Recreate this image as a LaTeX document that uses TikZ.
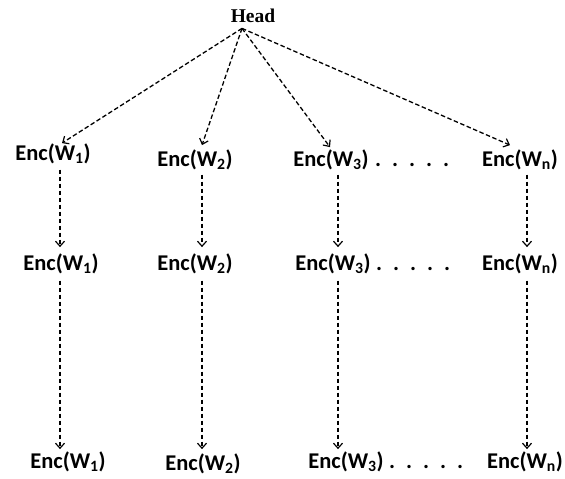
\documentclass[tikz,border=0pt]{standalone}
\usepackage{fontspec}
\setmainfont{Carlito}
\newfontfamily\headfont{Liberation Serif}
\usetikzlibrary{arrows.meta}
\begin{document}
\begin{tikzpicture}[x=1pt,y=-1pt,
  lbl/.style={font=\bfseries\fontsize{22.5}{26}\selectfont, inner sep=0pt, anchor=base},
  dotrow/.style={font=\bfseries\fontsize{22.5}{26}\selectfont, inner sep=0pt, anchor=base west},
  conn/.style={draw=black, line width=1.3pt, dash pattern=on 4.5pt off 2.5pt,
    -{Straight Barb[length=5pt,width=9pt,line width=1.2pt]}}]
\useasboundingbox (0,0) rectangle (565,479);
\node[font=\headfont\bfseries\fontsize{19.5}{22}\selectfont, inner sep=0pt, anchor=base] (head) at (253,23) {Head};
\coordinate (apex) at ([xshift=-11pt,yshift=-5pt]head.south);
% column x positions of the vertical connectors
\coordinate (c1) at (60,0);
\coordinate (c2) at (202,0);
\coordinate (c3) at (338,0);
\coordinate (cn) at (527,0);
% row 1
\node[lbl] (a1) at (53,160) {Enc(W\textsubscript{1})};
\node[lbl] (a2) at (195,166) {Enc(W\textsubscript{2})};
\node[lbl] (a3) at (331,166) {Enc(W\textsubscript{3})};
\node[dotrow] (d1) at (375,166) {.\hskip 11pt.\hskip 11pt.\hskip 11pt.\hskip 11pt.};
\node[lbl] (an) at (520,166) {Enc(W\textsubscript{n})};
% row 2
\node[lbl] (b1) at (61,270) {Enc(W\textsubscript{1})};
\node[lbl] (b2) at (195,270) {Enc(W\textsubscript{2})};
\node[lbl] (b3) at (333,270) {Enc(W\textsubscript{3})};
\node[dotrow] (d2) at (376,270) {.\hskip 11pt.\hskip 11pt.\hskip 11pt.\hskip 11pt.};
\node[lbl] (bn) at (520,270) {Enc(W\textsubscript{n})};
% row 3
\node[lbl] (e1) at (68,468) {Enc(W\textsubscript{1})};
\node[lbl] (e2) at (203,470) {Enc(W\textsubscript{2})};
\node[lbl] (e3) at (346,468) {Enc(W\textsubscript{3})};
\node[dotrow] (d3) at (389,468) {.\hskip 11pt.\hskip 11pt.\hskip 11pt.\hskip 11pt.};
\node[lbl] (en) at (525,468) {Enc(W\textsubscript{n})};
% head to row 1
\draw[conn] (apex) -- ([xshift=9pt]a1.north);
\draw[conn] (apex) -- ([xshift=7pt,yshift=4pt]a2.north);
\draw[conn] (apex) -- ([xshift=-1pt,yshift=2pt]a3.north);
\draw[conn] (apex) -- ([xshift=-10pt,yshift=4pt]an.north);
% row 1 to row 2
\draw[conn] ([yshift=-6pt]a1.south -| c1) -- ([yshift=6pt]b1.north -| c1);
\draw[conn] ([yshift=-5pt]a2.south -| c2) -- ([yshift=6pt]b2.north -| c2);
\draw[conn] ([yshift=-5pt]a3.south -| c3) -- ([yshift=6pt]b3.north -| c3);
\draw[conn] ([yshift=-5pt]an.south -| cn) -- ([yshift=6pt]bn.north -| cn);
% row 2 to row 3
\draw[conn] ([yshift=-7pt]b1.south -| c1) -- ([yshift=2pt]e1.north -| c1);
\draw[conn] ([yshift=-7pt]b2.south -| c2) -- ([yshift=4pt]e2.north -| c2);
\draw[conn] ([yshift=-7pt]b3.south -| c3) -- ([yshift=2pt]e3.north -| c3);
\draw[conn] ([yshift=-7pt]bn.south -| cn) -- ([yshift=2pt]en.north -| cn);
\end{tikzpicture}
\end{document}
